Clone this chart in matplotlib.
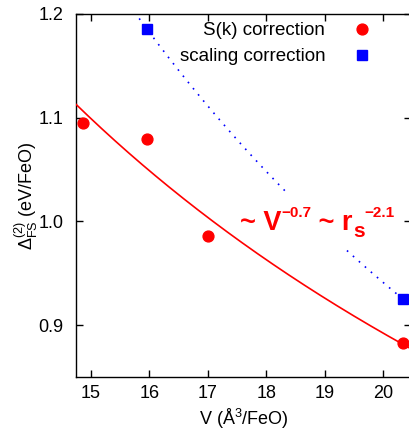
import numpy as np
import matplotlib
matplotlib.use("Agg")
import matplotlib.pyplot as plt
from matplotlib.transforms import ScaledTranslation, Bbox
from matplotlib.patches import Rectangle

plt.rcParams['font.family'] = ['Liberation Sans', 'DejaVu Sans']
plt.rcParams['mathtext.fontset'] = 'custom'
plt.rcParams['mathtext.rm'] = 'Liberation Sans'
plt.rcParams['mathtext.it'] = 'Liberation Sans:italic'
plt.rcParams['mathtext.bf'] = 'Liberation Sans:bold'
plt.rcParams['mathtext.default'] = 'regular'

# S(k) correction
V_sk = np.array([14.87, 15.95, 17.0, 20.34])
E_sk = np.array([1.095, 1.079, 0.986, 0.883])
# scaling correction
V_sc = np.array([15.95, 20.34])
E_sc = np.array([1.186, 0.925])

labels = ["S(k) correction", "scaling correction"]
xticks = [15, 16, 17, 18, 19, 20]
yticks = [0.9, 1.0, 1.1, 1.2]
xlim = (14.743, 20.475)
ylim = (0.85, 1.2)

# power-law fits  E = a * V^b
b_sk, lna_sk = np.polyfit(np.log(V_sk), np.log(E_sk), 1)
b_sc, lna_sc = np.polyfit(np.log(V_sc), np.log(E_sc), 1)
V_fit = np.linspace(xlim[0], xlim[1], 300)

fig = plt.figure(figsize=(4.09, 4.33), dpi=100)
ax = fig.add_axes([76 / 409, 1 - 377 / 433, 335 / 409, 363 / 433])

ax.plot(V_fit, np.exp(lna_sk) * V_fit ** b_sk, color='#ff0000', lw=1.2, zorder=5)
ax.plot(V_fit, np.exp(lna_sc) * V_fit ** b_sc, color='#0000ff', lw=1.2,
        linestyle=(0, (1, 3.8)), zorder=2)
ax.plot(V_sk, E_sk, 'o', color='#ff0000', ms=7.8, label=labels[0], zorder=6, clip_on=False)
ax.plot(V_sc, E_sc, 's', color='#0000ff', ms=7.8, label=labels[1], zorder=6, clip_on=False)

ax.set_xlim(*xlim)
ax.set_ylim(*ylim)
ax.set_xticks(xticks)
ax.set_yticks(yticks)
ax.set_yticklabels([f"{v:.1f}" for v in yticks])
ax.tick_params(direction='in', top=True, right=True, length=5, width=1,
               labelsize=13)
ax.tick_params(axis='x', pad=6)
ax.tick_params(axis='y', pad=9)
for s in ax.spines.values():
    s.set_linewidth(1.0)

ax.set_xlabel("V (Å$^3$/FeO)", fontsize=13, labelpad=3)
ax.set_ylabel(r"$\Delta^{(2)}_{FS}$ (eV/FeO)", fontsize=13)
ax.yaxis.set_label_coords(-0.108, 0.5)

leg = ax.legend(loc='upper right', bbox_to_anchor=(0.882, 0.977), frameon=False,
                markerfirst=False, fontsize=13.5, handlelength=1.0,
                handletextpad=1.47, labelspacing=0.46, borderpad=0,
                borderaxespad=0)

# annotation built piece by piece (gnuplot-like sizes)
x0, y0 = 17.548, 0.9913
pieces = [("~ V", 19.5, 0), ("\u22120.7", 11, 9.5), (" ~ r", 19.5, 0),
          ("s", 15, -5), ("\u22122.1", 11, 9.5)]
fig.canvas.draw()
renderer = fig.canvas.get_renderer()
x_off = 0.0
texts = []
for txt, size, dy in pieces:
    tr = ax.transData + ScaledTranslation(x_off / 72, dy / 72, fig.dpi_scale_trans)
    t = ax.text(x0, y0, txt, transform=tr, fontsize=size, fontweight='bold',
                color='#ff0000', va='baseline', ha='left', zorder=7)
    ext = t.get_window_extent(renderer)
    x_off += ext.width * 72 / fig.dpi
    texts.append(ext)

# white box behind the label hides the dotted line, like gnuplot's opaque label
bb = Bbox.union(texts)
inv = ax.transAxes.inverted()
(x1, y1) = inv.transform((bb.x0 - 6, bb.y0 - 8))
(x2, y2) = inv.transform((bb.x1 + 6, bb.y1 + 14))
ax.add_patch(Rectangle((x1, y1), x2 - x1, y2 - y1, transform=ax.transAxes,
                       facecolor='white', edgecolor='none', zorder=3))

fig.savefig("out.png", dpi=100)
